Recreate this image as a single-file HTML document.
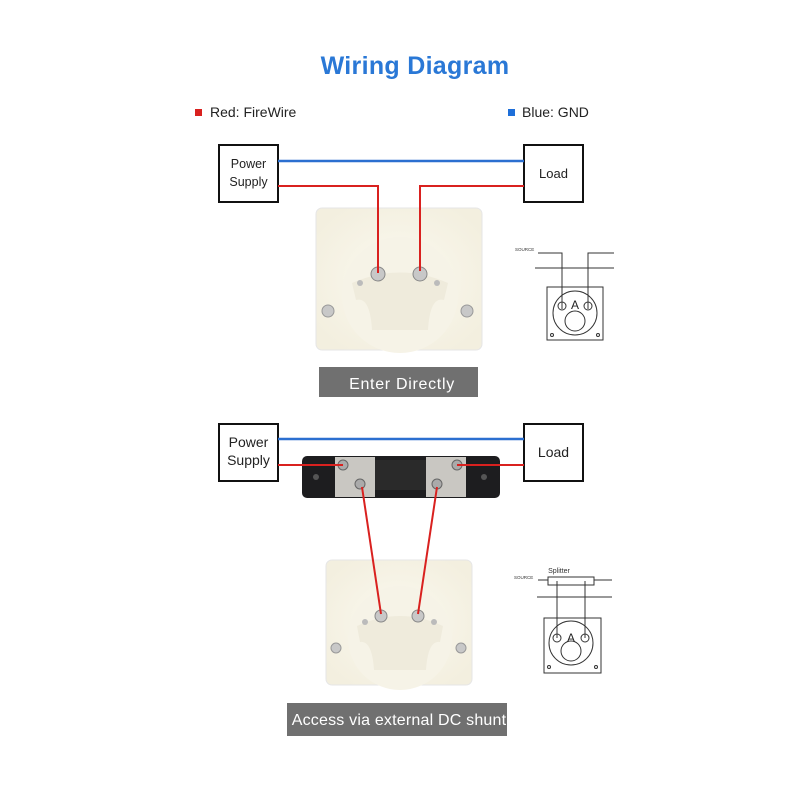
<!DOCTYPE html>
<html><head><meta charset="utf-8"><style>
body{margin:0;background:#fff;font-family:"Liberation Sans",sans-serif}
</style></head><body>
<svg width="800" height="800" viewBox="0 0 800 800" xmlns="http://www.w3.org/2000/svg" font-family="Liberation Sans, sans-serif">
<defs>
<radialGradient id="face" cx="0.5" cy="0.5" r="0.6"><stop offset="0" stop-color="#fbf9f0"/><stop offset="1" stop-color="#f3efdf"/></radialGradient>
</defs>
<rect width="800" height="800" fill="#fff"/>
<text x="415" y="74" text-anchor="middle" font-size="25" font-weight="bold" fill="#2a78d6" letter-spacing="0.3">Wiring Diagram</text>
<rect x="195" y="109" width="7" height="7" fill="#d9211f"/>
<text x="210" y="117" font-size="14" fill="#222">Red: FireWire</text>
<rect x="508" y="109" width="7" height="7" fill="#1e6fd9"/>
<text x="522" y="117" font-size="14" fill="#222">Blue: GND</text>

<g id="meter1">
<rect x="316" y="208" width="166" height="142" rx="6" fill="url(#face)" stroke="#e6e6e6"/>
<circle cx="400" cy="295" r="58" fill="#f6f3e7"/>
<path d="M352 283 Q400 262 448 283 L444 300 Q430 296 428 330 L372 330 Q370 296 356 300 Z" fill="#efebdc"/>
<circle cx="378" cy="274" r="7" fill="#c8c8c8" stroke="#888"/>
<circle cx="420" cy="274" r="7" fill="#c8c8c8" stroke="#888"/>
<circle cx="360" cy="283" r="3" fill="#bbb"/><circle cx="437" cy="283" r="3" fill="#bbb"/>
<circle cx="328" cy="311" r="6" fill="#c8c8c8" stroke="#999"/><circle cx="467" cy="311" r="6" fill="#c8c8c8" stroke="#999"/>
</g>
<rect x="219" y="145" width="59" height="57" fill="#fff" stroke="#111" stroke-width="2"/>
<text x="248.5" y="168" text-anchor="middle" font-size="12.5" fill="#222">Power</text>
<text x="248.5" y="186" text-anchor="middle" font-size="12.5" fill="#222">Supply</text>
<rect x="524" y="145" width="59" height="57" fill="#fff" stroke="#111" stroke-width="2"/>
<text x="553.5" y="178" text-anchor="middle" font-size="13" fill="#222">Load</text>
<line x1="278" y1="161" x2="524" y2="161" stroke="#2b6fd0" stroke-width="2.5"/>
<polyline points="278,186 378,186 378,273" fill="none" stroke="#d9211f" stroke-width="2"/>
<polyline points="524,186 420,186 420,271" fill="none" stroke="#d9211f" stroke-width="2"/>
<rect x="319" y="367" width="159" height="30" fill="#707070"/>
<text x="402" y="389" text-anchor="middle" font-size="16" fill="#fff" letter-spacing="0.7">Enter Directly</text>

<g stroke="#333" fill="none" stroke-width="1">
<text x="515" y="251" font-size="4.5" fill="#333" stroke="none">SOURCE</text>
<polyline points="538,253 562,253 562,309"/>
<polyline points="614,253 588,253 588,309"/>
<line x1="535" y1="268" x2="614" y2="268"/>
<rect x="547" y="287" width="56" height="53"/>
<circle cx="575" cy="313" r="22"/>
<circle cx="575" cy="321" r="10"/>
<circle cx="562" cy="306" r="4"/><circle cx="588" cy="306" r="4"/>
<circle cx="552" cy="335" r="1.5"/><circle cx="598" cy="335" r="1.5"/>
</g>
<text x="575" y="309" text-anchor="middle" font-size="12" fill="#222">A</text>

<g id="meter2">
<rect x="326" y="560" width="146" height="125" rx="6" fill="url(#face)" stroke="#e6e6e6"/>
<circle cx="400" cy="638" r="52" fill="#f6f3e7"/>
<path d="M357 626 Q400 606 443 626 L440 642 Q428 640 426 670 L374 670 Q372 640 360 642 Z" fill="#efebdc"/>
<circle cx="381" cy="616" r="6" fill="#c8c8c8" stroke="#888"/>
<circle cx="418" cy="616" r="6" fill="#c8c8c8" stroke="#888"/>
<circle cx="365" cy="622" r="3" fill="#bbb"/><circle cx="434" cy="622" r="3" fill="#bbb"/>
<circle cx="336" cy="648" r="5" fill="#c8c8c8" stroke="#999"/><circle cx="461" cy="648" r="5" fill="#c8c8c8" stroke="#999"/>
</g>
<rect x="302" y="456" width="198" height="42" rx="5" fill="#1d1d1f"/>
<rect x="335" y="457" width="40" height="40" fill="#c9c7c2"/>
<rect x="426" y="457" width="40" height="40" fill="#c9c7c2"/>
<rect x="375" y="460" width="51" height="30" fill="#2a2a2a"/>
<circle cx="316" cy="477" r="3" fill="#555"/><circle cx="484" cy="477" r="3" fill="#555"/>
<circle cx="343" cy="465" r="5" fill="#aaa" stroke="#666"/><circle cx="360" cy="484" r="5" fill="#aaa" stroke="#666"/>
<circle cx="457" cy="465" r="5" fill="#aaa" stroke="#666"/><circle cx="437" cy="484" r="5" fill="#aaa" stroke="#666"/>
<rect x="219" y="424" width="59" height="57" fill="#fff" stroke="#111" stroke-width="2"/>
<text x="248.5" y="447" text-anchor="middle" font-size="14" fill="#222">Power</text>
<text x="248.5" y="465" text-anchor="middle" font-size="14" fill="#222">Supply</text>
<rect x="524" y="424" width="59" height="57" fill="#fff" stroke="#111" stroke-width="2"/>
<text x="553.5" y="457" text-anchor="middle" font-size="14" fill="#222">Load</text>
<line x1="278" y1="439" x2="524" y2="439" stroke="#2b6fd0" stroke-width="2.5"/>
<line x1="278" y1="465" x2="343" y2="465" stroke="#d9211f" stroke-width="2"/>
<line x1="457" y1="465" x2="524" y2="465" stroke="#d9211f" stroke-width="2"/>
<line x1="362" y1="487" x2="381" y2="614" stroke="#d9211f" stroke-width="2"/>
<line x1="437" y1="487" x2="418" y2="614" stroke="#d9211f" stroke-width="2"/>
<rect x="287" y="703" width="220" height="33" fill="#707070"/>
<text x="399" y="725" text-anchor="middle" font-size="16" fill="#fff" letter-spacing="0.2">Access via external DC shunt</text>

<g stroke="#333" fill="none" stroke-width="1">
<text x="514" y="579" font-size="4.5" fill="#333" stroke="none">SOURCE</text>
<text x="559" y="573" font-size="7" fill="#333" stroke="none" text-anchor="middle">Splitter</text>
<line x1="538" y1="580" x2="548" y2="580"/>
<rect x="548" y="577" width="46" height="8"/>
<line x1="594" y1="580" x2="612" y2="580"/>
<line x1="537" y1="597" x2="612" y2="597"/>
<line x1="557" y1="581" x2="557" y2="638"/>
<line x1="585" y1="581" x2="585" y2="638"/>
<rect x="544" y="618" width="57" height="55"/>
<circle cx="571" cy="643" r="22"/>
<circle cx="571" cy="651" r="10"/>
<circle cx="557" cy="638" r="4"/><circle cx="585" cy="638" r="4"/>
<circle cx="549" cy="667" r="1.5"/><circle cx="596" cy="667" r="1.5"/>
</g>
<text x="571" y="642" text-anchor="middle" font-size="12" fill="#222">A</text>
</svg>
</body></html>
